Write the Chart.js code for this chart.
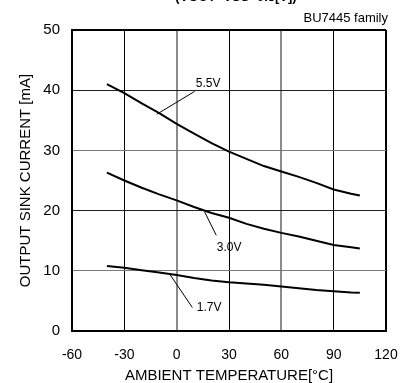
<!DOCTYPE html>
<html>
<head>
<meta charset="utf-8">
<script src="https://cdn.jsdelivr.net/npm/chart.js@4.4.0/dist/chart.umd.min.js"></script>
<style>
  html, body { margin: 0; padding: 0; background: #fff; overflow: hidden; }
  #wrap { width: 405px; height: 383px; }
</style>
</head>
<body>
<div id="wrap"><canvas id="myChart" width="405" height="383"></canvas></div>
<script>
// ambient temperature [°C]
const temps = [-40, -30, -20, -10, 0, 10, 20, 30, 40, 50, 60, 70, 80, 90, 100, 105];
// output sink current [mA]
const sink55 = [41.0, 39.5, 37.8, 36.2, 34.4, 32.8, 31.2, 29.8, 28.6, 27.4, 26.5, 25.6, 24.6, 23.5, 22.8, 22.5];
const sink30 = [26.3, 25.0, 23.8, 22.7, 21.7, 20.6, 19.6, 18.8, 17.8, 17.0, 16.3, 15.7, 15.0, 14.3, 13.9, 13.7];
const sink17 = [10.8, 10.5, 10.1, 9.7, 9.3, 8.8, 8.4, 8.1, 7.9, 7.7, 7.4, 7.1, 6.8, 6.6, 6.4, 6.35];

const xTicks = [-60, -30, 0, 30, 60, 90, 120];
const yTicks = [0, 10, 20, 30, 40, 50];

// curve labels: text, text anchor [temp, mA], leader line from / to
const curveLabels = [
    { text: '5.5V', at: [11, 41.0], from: [-11.4, 36.0], to: [10.3, 39.8] },
    { text: '3.0V', at: [23, 13.8], from: [16.0, 19.8], to: [22.7, 15.9] },
    { text: '1.7V', at: [11.5, 3.8], from: [-4.0, 9.45], to: [9.0, 3.9] }
];

const toPoints = (ys) => temps.map((t, i) => ({ x: t, y: ys[i] }));

const lineStyle = {
    borderColor: '#000',
    borderWidth: 2,
    pointRadius: 0,
    tension: 0,
    fill: false
};

const datasets = [
    Object.assign({ label: '5.5V', data: toPoints(sink55) }, lineStyle),
    Object.assign({ label: '3.0V', data: toPoints(sink30) }, lineStyle),
    Object.assign({ label: '1.7V', data: toPoints(sink17) }, lineStyle)
];
curveLabels.forEach(l => {
    datasets.push({
        label: l.text + ' leader',
        data: [{ x: l.from[0], y: l.from[1] }, { x: l.to[0], y: l.to[1] }],
        borderColor: '#000',
        borderWidth: 1,
        pointRadius: 0,
        tension: 0
    });
});

const labelPlugin = {
    id: 'curveLabels',
    afterDatasetsDraw(chart) {
        const ctx = chart.ctx;
        const xs = chart.scales.x, ys = chart.scales.y;
        ctx.save();
        ctx.fillStyle = '#000';
        ctx.font = '12px "Liberation Sans", Arial, sans-serif';
        ctx.textAlign = 'left';
        ctx.textBaseline = 'middle';
        curveLabels.forEach(l => {
            ctx.fillText(l.text, xs.getPixelForValue(l.at[0]), ys.getPixelForValue(l.at[1]));
        });
        // header texts
        ctx.font = '13px "Liberation Sans", Arial, sans-serif';
        ctx.textAlign = 'right';
        ctx.fillText('BU7445 family', chart.chartArea.right + 2, 18);
        ctx.font = 'bold 13px "Liberation Sans", Arial, sans-serif';
        ctx.textAlign = 'center';
        ctx.textBaseline = 'bottom';
        ctx.fillText('(VOUT=VSS+0.5[V])', 236, 4);
        ctx.restore();
    }
};

const xGridColor = (c) => {
    const v = c.tick && c.tick.value;
    if (v === 0 || v === 60) return '#8a8a8a';
    return '#000';
};
const xGridWidth = (c) => {
    const v = c.tick && c.tick.value;
    if (v === 0 || v === 60 || v === 120 || v === -60) return 2;
    return 1;
};
const yGridColor = (c) => {
    const v = c.tick && c.tick.value;
    if (v === 10 || v === 30) return '#7a7a7a';
    if (v === 50) return '#000';
    return '#222';
};
const yGridWidth = (c) => {
    const v = c.tick && c.tick.value;
    return (v === 50 || v === 0) ? 2 : 1;
};

const config = {
    type: 'line',
    data: { datasets: datasets },
    options: {
        responsive: false,
        animation: false,
        layout: { padding: { top: 30, right: 19, left: 0, bottom: 0 } },
        plugins: {
            legend: { display: false },
            tooltip: { enabled: false }
        },
        scales: {
            x: {
                type: 'linear',
                min: -60,
                max: 120,
                afterBuildTicks: (s) => { s.ticks = xTicks.map(v => ({ value: v })); },
                afterFit: (s) => { s.height = 52; s.paddingLeft = 0; s.paddingRight = 0; },
                grid: { color: xGridColor, lineWidth: xGridWidth, drawTicks: false },
                border: { color: '#000', width: 2 },
                ticks: {
                    color: '#000',
                    padding: 16,
                    font: { family: '"Liberation Sans", Arial, sans-serif', size: 14 }
                },
                title: {
                    display: true,
                    text: 'AMBIENT TEMPERATURE[°C]',
                    color: '#000',
                    padding: { top: 0, bottom: -2 },
                    font: { family: '"Liberation Sans", Arial, sans-serif', size: 15 }
                }
            },
            y: {
                type: 'linear',
                min: 0,
                max: 50,
                afterBuildTicks: (s) => { s.ticks = yTicks.map(v => ({ value: v })); },
                afterFit: (s) => { s.width = 72; s.paddingTop = 0; s.paddingBottom = 0; },
                grid: { color: yGridColor, lineWidth: yGridWidth, drawTicks: false },
                border: { color: '#000', width: 2 },
                ticks: {
                    color: '#000',
                    padding: 12,
                    font: { family: '"Liberation Sans", Arial, sans-serif', size: 15 }
                },
                title: {
                    display: true,
                    text: 'OUTPUT SINK CURRENT [mA]',
                    color: '#000',
                    padding: { top: 17, bottom: 0 },
                    font: { family: '"Liberation Sans", Arial, sans-serif', size: 15 }
                }
            }
        }
    },
    plugins: [labelPlugin]
};

const myChart = new Chart(document.getElementById('myChart'), config);
</script>
</body>
</html>
